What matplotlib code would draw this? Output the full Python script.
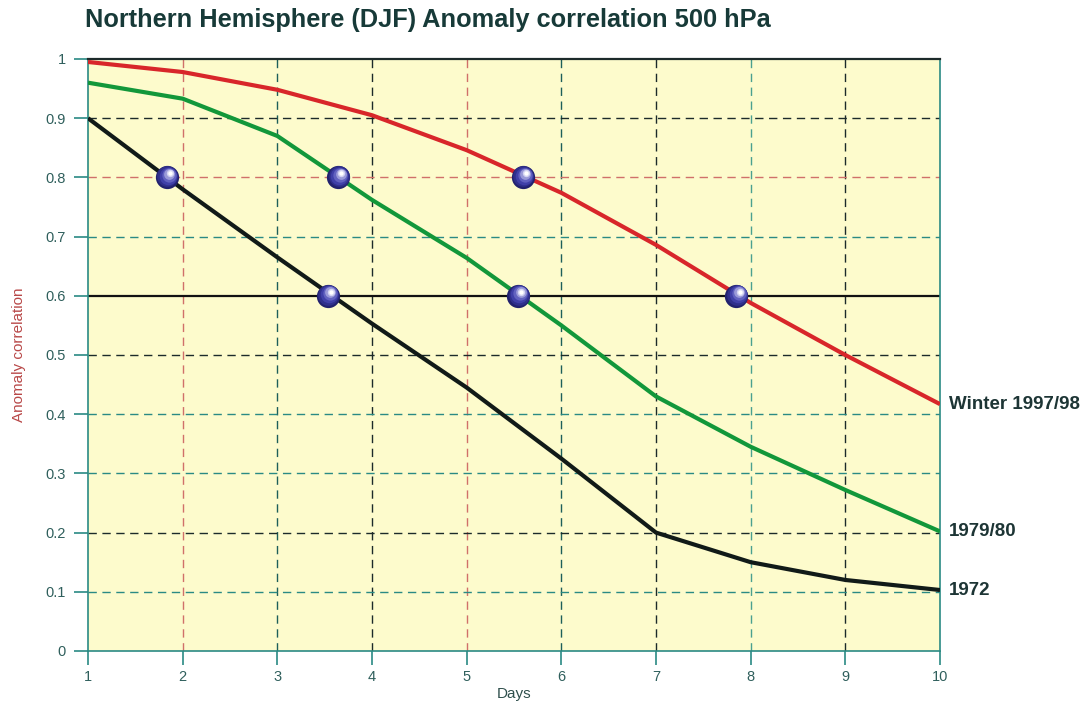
import numpy as np
import matplotlib
matplotlib.use("Agg")
import matplotlib.pyplot as plt

plt.rcParams['font.family'] = ['Liberation Sans', 'DejaVu Sans']

# Data
days = [1, 2, 3, 4, 5, 6, 7, 8, 9, 10]
winter_9798 = [0.995, 0.978, 0.948, 0.905, 0.846, 0.774, 0.686, 0.588, 0.50, 0.417]
winter_7980 = [0.96, 0.933, 0.87, 0.762, 0.664, 0.55, 0.43, 0.345, 0.272, 0.202]
winter_1972 = [0.90, 0.78, 0.665, 0.553, 0.445, 0.325, 0.20, 0.15, 0.12, 0.103]
series_names = ["Winter 1997/98", "1979/80", "1972"]

# days at which each curve crosses 0.8 and 0.6
cross_x = [1.83, 3.64, 5.59, 3.53, 5.54, 7.85]
cross_y = [0.8, 0.8, 0.8, 0.6, 0.6, 0.6]

xticks = [1, 2, 3, 4, 5, 6, 7, 8, 9, 10]
yticks = [0, 0.1, 0.2, 0.3, 0.4, 0.5, 0.6, 0.7, 0.8, 0.9, 1]
ytick_labels = ["0", "0.1", "0.2", "0.3", "0.4", "0.5", "0.6", "0.7", "0.8", "0.9", "1"]

teal = "#2a8a84"
red_grid = "#d0706a"
dark = "#1c2a2a"

fig = plt.figure(figsize=(10.9, 7.04), dpi=100, facecolor="white")
ax = fig.add_axes([88 / 1090, 53 / 704, 852 / 1090, 592 / 704])
ax.set_facecolor("#fdfbcc")
ax.set_xlim(1, 10)
ax.set_ylim(0, 1)

# grid lines with mixed colours, like the original
vcolors = {2: red_grid, 3: "#1d5f5a", 4: dark, 5: red_grid, 6: "#1d5f5a", 7: dark, 8: "#4aa090", 9: dark}
for x, c in vcolors.items():
    ax.axvline(x, color=c, lw=1.0, ls=(0, (6, 4)), zorder=1)
hcolors = {0.1: teal, 0.2: dark, 0.3: teal, 0.4: teal, 0.5: dark, 0.7: teal, 0.8: red_grid, 0.9: dark}
for y, c in hcolors.items():
    ax.axhline(y, color=c, lw=1.0, ls=(0, (6, 4)), zorder=1)
ax.axhline(0.6, color="#111111", lw=1.6, zorder=2)

ax.plot(days, winter_9798, color="#d8262a", lw=3, zorder=3, solid_capstyle="butt")
ax.plot(days, winter_7980, color="#12973a", lw=3, zorder=3, solid_capstyle="butt")
ax.plot(days, winter_1972, color="#111a18", lw=3, zorder=3, solid_capstyle="butt")

# shaded "spheres": stacked discs getting lighter towards the highlight
cx = np.array(cross_x)
cy = np.array(cross_y)
layers = [(280, "#22226e", 0.0), (220, "#2f2f8c", 0.008), (160, "#4040a8", 0.016),
          (105, "#6262c0", 0.024), (60, "#9a9ad8", 0.030), (28, "#d4d4f2", 0.034), (10, "white", 0.036)]
for z, (s, c, off) in enumerate(layers):
    ax.scatter(cx + off, cy + off * 0.2, s=s, color=c, zorder=5 + z, linewidths=0)

for side in ["left", "bottom", "right"]:
    ax.spines[side].set_color(teal)
    ax.spines[side].set_linewidth(1.2)
ax.spines["top"].set_color(dark)
ax.spines["top"].set_linewidth(1.6)

ax.set_xticks(xticks)
ax.set_xticklabels([str(t) for t in xticks])
ax.set_yticks(yticks)
ax.set_yticklabels(ytick_labels)
ax.tick_params(axis="both", direction="out", length=10, width=1.2, color=teal,
               labelcolor="#2f5f5c", labelsize=10.5, pad=4)
ax.tick_params(axis="y", pad=6)

ax.set_xlabel("Days", fontsize=11, color="#2f4f4c", labelpad=2)
ax.set_ylabel("Anomaly correlation", fontsize=11, color="#b84848", labelpad=14)

ends = [winter_9798[-1], winter_7980[-1], winter_1972[-1]]
for name, y in zip(series_names, ends):
    ax.text(10.09, y, name, fontsize=13.5, fontweight="bold", color="#1d3535",
            va="center", ha="left", clip_on=False)

fig.text(85 / 1090, 1 - 20 / 704, "Northern Hemisphere (DJF) Anomaly correlation 500 hPa",
         fontsize=18.3, fontweight="bold", color="#173a38", va="center", ha="left")

fig.savefig("out.png", dpi=100, facecolor="white")
